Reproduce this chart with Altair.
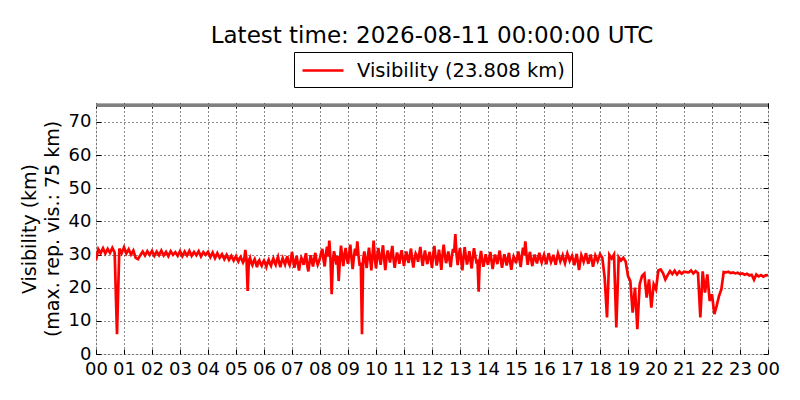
import altair as alt
import pandas as pd

# Visibility (km), samples every 5 minutes (minute 0, 5, ... 55) per hour, 00 .. 23 UTC
h00 = [28.3, 31.6, 30.4, 31.9, 30.3, 31.7, 30.5, 32.0, 30.6, 6.0, 31.8, 30.4]
h01 = [32.2, 30.3, 31.6, 30.0, 31.2, 29.0, 28.6, 29.8, 30.9, 29.7, 31.0, 29.9]
h02 = [31.1, 29.6, 30.9, 29.8, 31.2, 29.7, 30.8, 29.5, 31.0, 29.9, 30.7, 29.6]
h03 = [31.0, 29.5, 30.9, 29.7, 31.1, 29.6, 30.8, 29.8, 31.0, 29.4, 30.7, 29.9]
h04 = [30.8, 29.2, 30.6, 28.9, 30.4, 29.0, 30.1, 28.6, 29.9, 28.4, 29.6, 28.2]
h05 = [29.5, 27.9, 29.3, 27.6, 31.4, 19.0, 29.0, 26.8, 28.6, 26.2, 28.3, 26.6]
h06 = [28.2, 26.3, 28.4, 26.6, 28.8, 26.9, 29.3, 26.2, 28.9, 27.0, 29.5, 26.8]
h07 = [30.8, 26.0, 29.6, 25.2, 29.0, 26.9, 30.4, 24.9, 29.8, 26.4, 30.5, 26.9]
h08 = [29.0, 31.7, 26.4, 32.4, 34.2, 18.0, 31.0, 27.0, 22.0, 32.7, 26.5, 32.0]
h09 = [27.2, 33.0, 25.6, 31.8, 34.0, 26.6, 6.0, 30.9, 25.9, 32.1, 25.2, 34.2]
h10 = [25.8, 32.0, 26.9, 32.8, 25.3, 31.2, 27.6, 32.6, 26.0, 30.6, 27.2, 31.3]
h11 = [26.5, 30.9, 27.5, 31.8, 26.1, 30.3, 27.8, 32.3, 26.6, 31.2, 27.1, 30.8]
h12 = [26.0, 32.6, 26.7, 31.5, 25.4, 33.0, 27.4, 30.9, 26.2, 31.7, 36.2, 26.8]
h13 = [32.0, 25.2, 32.2, 27.0, 31.0, 25.8, 31.9, 27.8, 18.8, 31.1, 26.3, 30.1]
h14 = [26.9, 30.8, 25.6, 30.0, 27.1, 31.2, 26.0, 30.1, 26.7, 30.5, 25.4, 29.4]
h15 = [27.4, 30.9, 26.2, 32.1, 34.0, 26.9, 30.8, 26.5, 30.0, 27.3, 30.5, 27.6]
h16 = [29.9, 27.1, 30.4, 27.7, 29.9, 26.9, 30.3, 27.9, 29.8, 27.4, 30.3, 28.1]
h17 = [29.6, 26.8, 30.2, 25.3, 29.8, 27.8, 30.4, 27.2, 30.0, 26.3, 29.7, 28.0]
h18 = [30.1, 29.0, 23.0, 11.0, 29.9, 28.8, 30.0, 8.0, 29.2, 28.2, 29.0, 27.9]
h19 = [23.5, 22.0, 12.5, 20.0, 7.5, 21.0, 23.5, 24.2, 17.0, 22.5, 14.0, 21.0]
h20 = [19.5, 25.2, 25.5, 24.4, 22.5, 23.8, 25.0, 24.1, 25.1, 24.0, 24.9, 24.2]
h21 = [24.8, 24.7, 24.6, 25.2, 24.3, 25.0, 24.4, 11.0, 24.9, 18.5, 24.0, 16.0]
h22 = [18.0, 12.0, 14.5, 17.5, 19.5, 24.7, 24.6, 24.8, 24.4, 24.6, 24.3, 24.5]
h23 = [24.1, 24.3, 23.9, 24.2, 23.7, 23.9, 22.4, 24.0, 23.4, 23.8, 23.3, 23.7]
last_value = [23.808]  # 24:00

# extra samples at minute 2.5, 7.5, ... 57.5 for the noisy hours 05 .. 17 UTC
m05 = [28.6, 28.8, 28.4, 28.4, 28.6, 28.2, 27.5, 27.9, 27.4, 27.8, 27.2, 27.6]
m06 = [27.4, 27.6, 27.3, 27.9, 27.6, 28.3, 27.5, 27.8, 27.9, 28.4, 27.6, 28.2]
m07 = [28.4, 27.9, 27.3, 27.5, 28.2, 28.9, 26.8, 27.6, 28.0, 28.7, 28.1, 27.8]
m08 = [30.6, 28.5, 30.0, 29.4, 28.6, 27.8, 29.2, 29.6, 28.0, 29.3, 30.1, 28.8]
m09 = [30.4, 28.9, 29.0, 29.7, 29.8, 27.5, 28.7, 28.4, 29.3, 28.8, 29.7, 28.9]
m10 = [29.4, 29.0, 30.2, 28.6, 28.9, 29.5, 30.3, 28.7, 28.5, 29.4, 29.7, 28.8]
m11 = [29.1, 28.7, 29.9, 28.4, 28.7, 29.6, 30.1, 29.0, 29.2, 28.8, 29.4, 28.3]
m12 = [29.8, 29.4, 28.6, 28.7, 29.9, 30.0, 28.8, 28.4, 29.5, 30.6, 30.1, 29.9]
m13 = [28.5, 29.0, 29.4, 28.8, 28.2, 29.3, 29.6, 28.0, 28.6, 28.4, 28.0, 28.3]
m14 = [28.9, 28.1, 28.0, 28.7, 29.3, 28.4, 28.2, 28.5, 28.9, 27.6, 27.9, 28.6]
m15 = [29.2, 28.4, 29.4, 29.8, 30.0, 29.1, 28.4, 28.6, 28.5, 29.0, 28.7, 28.9]
m16 = [28.4, 28.9, 29.0, 28.6, 28.3, 28.7, 29.2, 28.8, 28.5, 28.9, 29.3, 28.9]
m17 = [28.3, 28.5, 27.9, 27.6, 28.9, 29.0, 28.6, 28.8, 28.2, 28.0, 28.9, 29.0]

main = [h00, h01, h02, h03, h04, h05, h06, h07, h08, h09, h10, h11,
        h12, h13, h14, h15, h16, h17, h18, h19, h20, h21, h22, h23]
extra = {5: m05, 6: m06, 7: m07, 8: m08, 9: m09, 10: m10, 11: m11,
         12: m12, 13: m13, 14: m14, 15: m15, 16: m16, 17: m17}

rows = []
for hour, vals in enumerate(main):
    for i, v in enumerate(vals):
        rows.append((hour * 60 + i * 5, v))
        if hour in extra:
            rows.append((hour * 60 + i * 5 + 2.5, extra[hour][i]))
rows.append((24 * 60, last_value[0]))

series_name = "Visibility (23.808 km)"
max_rep_vis = [75]
x_ticks = list(range(0, 25))
y_ticks = [0, 10, 20, 30, 40, 50, 60, 70]

df = pd.DataFrame({"h": [m / 60 for m, _ in rows], "v": [v for _, v in rows],
                   "series": series_name})
df_max = pd.DataFrame({"y": max_rep_vis})

FONT = "DejaVu Sans"
xscale = alt.Scale(domain=[0, 24], nice=False, zero=False)
yscale = alt.Scale(domain=[0, 75.7], nice=False, zero=True)

line = alt.Chart(df).mark_line(strokeWidth=2.7, clip=True).encode(
    x=alt.X("h:Q", scale=xscale,
            axis=alt.Axis(orient="bottom", values=x_ticks, title=None,
                          labelExpr="format(datum.value % 24, '02d')",
                          grid=True, gridDash=[1, 3], gridColor="#000000",
                          gridWidth=1, gridOpacity=0.9,
                          domain=False, offset=-5, tickSize=5,
                          tickColor="#000000", tickWidth=1,
                          labelPadding=6, labelFontSize=18, labelFont=FONT,
                          labelColor="#000000", labelFlush=False)),
    y=alt.Y("v:Q", scale=yscale,
            axis=alt.Axis(orient="left", values=y_ticks,
                          title=["Visibility (km)", "(max. rep. vis.: 75 km)"],
                          titleFont=FONT, titleFontSize=19,
                          titleFontWeight="normal", titleColor="#000000",
                          titlePadding=6, titleLineHeight=23,
                          grid=True, gridDash=[1, 3], gridColor="#000000",
                          gridWidth=1, gridOpacity=0.9,
                          domain=False, offset=-5, tickSize=5,
                          tickColor="#000000", tickWidth=1,
                          labelPadding=5, labelFontSize=18, labelFont=FONT,
                          labelColor="#000000", labelFlush=False)),
    color=alt.Color("series:N", scale=alt.Scale(range=["#ff0000"]),
                    legend=alt.Legend(title=None, orient="none",
                                      legendX=198, legendY=-51,
                                      symbolType="M-1,0H3.1", symbolSize=400,
                                      symbolStrokeWidth=2.5,
                                      symbolFillColor="transparent",
                                      labelFont=FONT, labelFontSize=19.5,
                                      labelColor="#000000", labelOffset=33,
                                      labelLimit=500,
                                      padding=7, strokeColor="#000000",
                                      fillColor="#ffffff")),
)

maxline = alt.Chart(df_max).mark_rule(color="#808080", strokeWidth=3.5).encode(
    y=alt.Y("y:Q", scale=yscale,
            axis=alt.Axis(orient="right", values=y_ticks, title=None,
                          labels=False, grid=False, domain=False,
                          offset=-5, tickSize=5, tickColor="#000000",
                          tickWidth=1)),
    x=alt.value(0),
    x2=alt.value(672),
)

topaxis = alt.Chart(df_max).mark_point(opacity=0).encode(
    x=alt.X("tick:Q", scale=xscale,
            axis=alt.Axis(orient="top", values=x_ticks, title=None,
                          labels=False, grid=False, domain=False,
                          offset=-5, tickSize=5, tickColor="#000000",
                          tickWidth=1)),
).transform_calculate(tick="0")

chart = alt.layer(line, maxline, topaxis).properties(
    width=672, height=251,
    padding={"left": 88, "top": 95, "right": 24, "bottom": 38},
    autosize=alt.AutoSizeParams(type="none"),
    title=alt.Title("Latest time: 2026-08-11 00:00:00 UTC", font=FONT,
                    fontSize=23, fontWeight="normal", color="#000000",
                    anchor="middle", offset=4),
).configure_view(
    stroke="#000000", strokeWidth=1.5
).configure(background="#ffffff")

chart.save("out.html", embed_options={"renderer": "svg", "actions": False})
